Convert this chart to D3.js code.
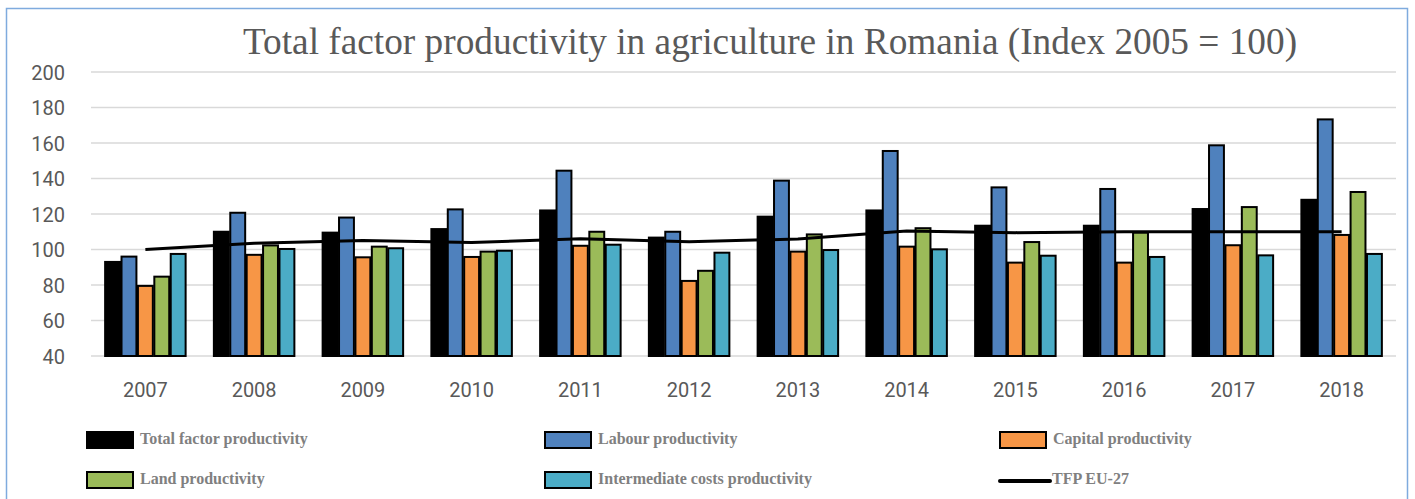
<!DOCTYPE html>
<html lang="en">
<head>
<meta charset="UTF-8">
<title>Total factor productivity in agriculture in Romania</title>
<script src="https://d3js.org/d3.v7.min.js"></script>
<style>
 body {margin: 0; padding: 0; background: #fff;}
 svg {display: block;}
 .title {font-family: "Liberation Serif", serif; font-size: 37.3px; fill: #595959;}
 .tick text {font-family: Roboto, sans-serif; font-size: 20px; fill: #595959;}
 .legend text {font-family: "Liberation Serif", serif; font-weight: bold; font-size: 16px; fill: #808080;}
</style>
</head>
<body>
<svg id="chart"></svg>
<script>
const years = ['2007','2008','2009','2010','2011','2012','2013','2014','2015','2016','2017','2018'];
const seriesNames = ['Total factor productivity','Labour productivity','Capital productivity','Land productivity','Intermediate costs productivity'];
const seriesColors = ['#000000','#4f81bd','#f79646','#9bbb59','#4bacc6'];
const totalFactor = [93, 110, 109.5, 111.5, 122, 106.7, 118.5, 122, 113.4, 113.4, 122.8, 128];
const labour = [96, 120.7, 118, 122.6, 144.4, 110, 138.8, 155.5, 135, 134.1, 158.7, 173.3];
const capital = [79.5, 97, 95.6, 95.8, 102.1, 82.3, 98.8, 101.6, 92.6, 92.6, 102.4, 108.2];
const land = [84.7, 102.3, 101.6, 98.8, 110, 88, 108.5, 112, 104.2, 109.5, 123.9, 132.4];
const intermediate = [97.5, 100.3, 100.7, 99.3, 102.7, 98.2, 99.7, 100.1, 96.5, 95.8, 96.7, 97.5];
const tfpEU27 = [100, 103.5, 105, 104, 106, 104.4, 105.9, 110.4, 109.5, 110, 110, 110];
const yTicks = [40, 60, 80, 100, 120, 140, 160, 180, 200];

const W = 1415, H = 499;
const svg = d3.select('#chart').attr('width', W).attr('height', H);

// chart border
svg.append('rect')
  .attr('x', 6.5).attr('y', 8.5)
  .attr('width', 1401).attr('height', 500)
  .attr('fill', 'none').attr('stroke', '#7fabde').attr('stroke-width', 1.5);

svg.append('text').attr('class', 'title')
  .attr('x', 770).attr('y', 54)
  .attr('text-anchor', 'middle')
  .text('Total factor productivity in agriculture in Romania (Index 2005 = 100)');

const plotLeft = 91, plotRight = 1396, plotTop = 72, plotBottom = 356;

const x = d3.scaleBand().domain(years).range([plotLeft, plotRight])
  .paddingInner(0.246).paddingOuter(0.123);
const xs = d3.scaleBand().domain(d3.range(seriesNames.length)).range([0, x.bandwidth()]);
const y = d3.scaleLinear().domain([40, 200]).range([plotBottom, plotTop]);

// grid
svg.append('g').selectAll('line').data(yTicks).join('line')
  .attr('x1', plotLeft).attr('x2', plotRight)
  .attr('y1', d => y(d)).attr('y2', d => y(d))
  .attr('stroke', '#d9d9d9').attr('stroke-width', 1.5);

const yAxis = svg.append('g').attr('transform', `translate(${plotLeft - 26},0)`)
  .call(d3.axisLeft(y).tickValues(yTicks).tickSize(0).tickPadding(0));
yAxis.select('.domain').remove();
yAxis.selectAll('text').attr('dy', '0.35em');

const xAxis = svg.append('g').attr('transform', `translate(0,${plotBottom})`)
  .call(d3.axisBottom(x).tickSize(0).tickPadding(27));
xAxis.select('.domain').remove();
xAxis.selectAll('text').attr('dy', '0.71em').attr('y', 27);

const seriesData = [totalFactor, labour, capital, land, intermediate];

const groups = svg.append('g').selectAll('g').data(years).join('g')
  .attr('transform', d => `translate(${x(d)},0)`);

groups.selectAll('rect')
  .data((yr, i) => seriesData.map((s, k) => ({k, v: s[i]})))
  .join('rect')
  .attr('x', d => xs(d.k) + 0.75)
  .attr('width', xs.bandwidth() - 1.5)
  .attr('y', d => y(d.v))
  .attr('height', d => plotBottom - y(d.v))
  .attr('fill', d => seriesColors[d.k])
  .attr('stroke', '#000').attr('stroke-width', 2);

// EU-27 line
const line = d3.line()
  .x((d, i) => x(years[i]) + x.bandwidth() / 2)
  .y(d => y(d));
svg.append('path').datum(tfpEU27)
  .attr('d', line)
  .attr('fill', 'none').attr('stroke', '#000').attr('stroke-width', 3);

// legend
const legendX = [87, 545, 1000];
const legendY = [440, 480];
const legendItems = seriesNames.map((n, k) => ({name: n, color: seriesColors[k], type: 'rect'}))
  .concat([{name: 'TFP EU-27', color: '#000', type: 'line'}]);

const lg = svg.append('g').attr('class', 'legend').selectAll('g').data(legendItems).join('g')
  .attr('transform', (d, i) => `translate(${legendX[i % 3]},${legendY[Math.floor(i / 3)]})`);

lg.filter(d => d.type === 'rect').append('rect')
  .attr('x', 0).attr('y', -8).attr('width', 46).attr('height', 16)
  .attr('fill', d => d.color).attr('stroke', '#000').attr('stroke-width', 2);
lg.filter(d => d.type === 'line').append('line')
  .attr('x1', 0).attr('x2', 50).attr('y1', 1).attr('y2', 1)
  .attr('stroke', '#000').attr('stroke-width', 4).attr('stroke-linecap', 'round');
lg.append('text')
  .attr('x', d => d.type === 'line' ? 52 : 53)
  .attr('y', 4)
  .text(d => d.name);
</script>
</body>
</html>
